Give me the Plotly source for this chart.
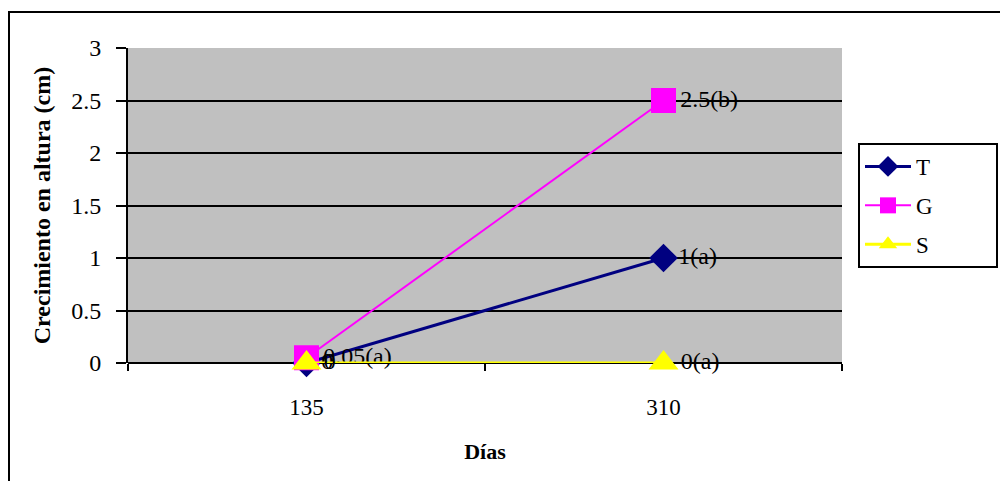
import plotly.graph_objects as go

dias = ["135", "310"]
serie_T = [0, 1]
serie_G = [0.05, 2.5]
serie_S = [0, 0]
etiquetas_T = ["0", "1(a)"]
etiquetas_G = ["0.05(a)", "2.5(b)"]
etiquetas_S = ["0", "0(a)"]
y_ticks = [0, 0.5, 1, 1.5, 2, 2.5, 3]

serif = "Liberation Serif, Times New Roman, serif"
pad = "\u00a0" * 10

fig = go.Figure()

def add(name, y, txt, color, symbol, size, lw):
    fig.add_trace(go.Scatter(
        x=dias, y=y, name=name + pad, mode="lines+markers+text",
        text=txt, textposition="middle right", legendgroup=name,
        textfont=dict(family=serif, size=24, color="#000000"),
        line=dict(color=color, width=lw),
        marker=dict(symbol=symbol, size=size, color=color),
        cliponaxis=False,
    ))

add("T", serie_T, etiquetas_T, "#000080", "diamond", 22, 3)
add("G", serie_G, etiquetas_G, "#FF00FF", "square", 25, 2)
add("S", serie_S, etiquetas_S, "#FFFF00", "triangle-up", 26, 3)

W, H = 1008, 481
L, R, T, B = 120, 174, 40, 126
pw, ph = W - L - R, H - T - B

fig.update_layout(
    width=W, height=H,
    paper_bgcolor="white", plot_bgcolor="#C0C0C0",
    margin=dict(l=L, r=R, t=T, b=B),
    font=dict(family=serif, size=22, color="#000000"),
    legend=dict(
        x=1 + 16 / pw, xanchor="left", y=0.5, yanchor="middle",
        bgcolor="white", bordercolor="#000000", borderwidth=2,
        font=dict(family=serif, size=23), tracegroupgap=6,
        itemwidth=46,
    ),
    xaxis=dict(
        type="category", range=[-0.5, 1.5], tickson="boundaries",
        ticks="outside", ticklen=7, tickcolor="#000000", tickwidth=2,
        showgrid=False, showline=False, zeroline=False,
        ticklabelstandoff=28,
        tickfont=dict(family=serif, size=23),
        title=dict(text="<b>Días</b>", font=dict(family=serif, size=22), standoff=24),
    ),
    yaxis=dict(
        range=[0, 3], tickvals=y_ticks, ticktext=[f"{v:g}" for v in y_ticks],
        ticks="outside", ticklen=10, tickcolor="#000000", tickwidth=2,
        showgrid=True, gridcolor="#000000", gridwidth=2,
        showline=True, linecolor="#000000", linewidth=2,
        zeroline=True, zerolinecolor="#000000", zerolinewidth=2,
        ticklabelstandoff=10,
        tickfont=dict(family=serif, size=24),
        title=dict(text="<b>Crecimiento en altura (cm)</b>", font=dict(family=serif, size=24), standoff=14),
    ),
)

fig.add_shape(type="rect", xref="paper", yref="paper",
              x0=(1 - L) / pw, x1=1.5, y0=-0.6, y1=1 + (T - 4) / ph,
              line=dict(color="#000000", width=2), fillcolor="rgba(0,0,0,0)", layer="below")

fig.write_html("out.html")
